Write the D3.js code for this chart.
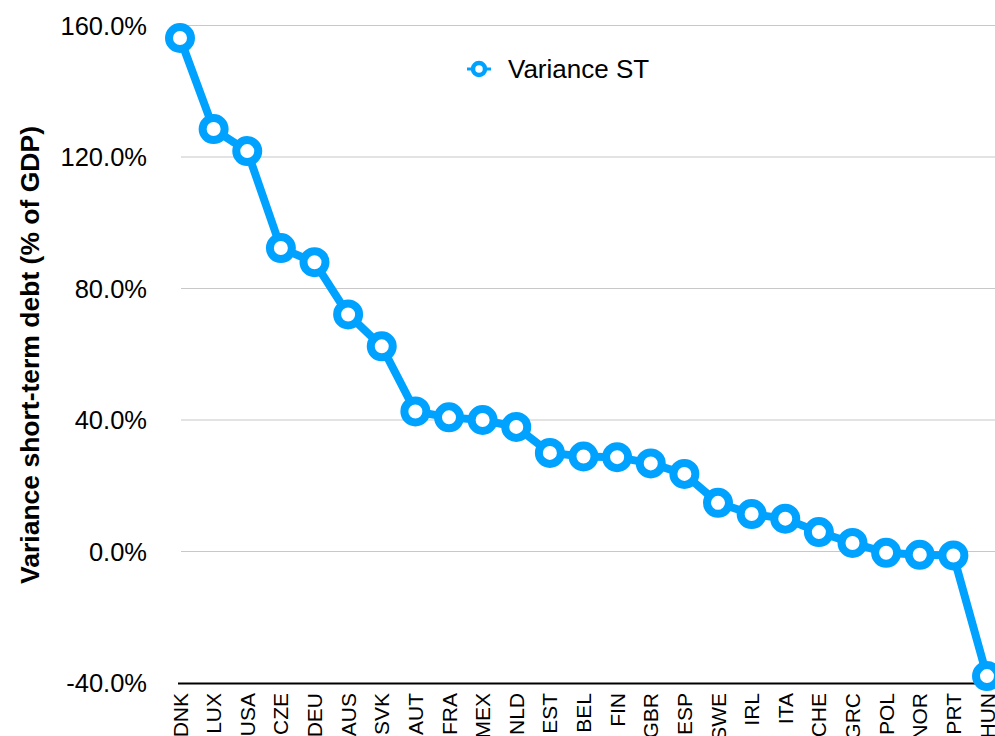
<!DOCTYPE html>
<html>
  <head>
    <meta charset="utf-8">
    <script src="https://d3js.org/d3.v7.min.js"></script>
    <style>
      body { margin: 0; background: white; }
      text { font-family: "Liberation Sans", Arial, sans-serif; fill: black; }
    </style>
  </head>
  <body>
    <svg id="main" width="995" height="736"></svg>
    <script>
      var countries = ['DNK','LUX','USA','CZE','DEU','AUS','SVK','AUT','FRA','MEX','NLD','EST','BEL',
                       'FIN','GBR','ESP','SWE','IRL','ITA','CHE','GRC','POL','NOR','PRT','HUN'];
      var variance = [156.2, 128.5, 121.8, 92.3, 88.0, 72.1, 62.4, 42.6, 40.8, 40.0, 37.9, 30.0, 28.9,
                      28.7, 26.8, 23.6, 14.8, 11.4, 10.0, 5.9, 2.6, -0.4, -1.0, -1.2, -37.9];
      var yTicks = [-40, 0, 40, 80, 120, 160];
      var seriesName = 'Variance ST';
      var BLUE = '#00a2ff';

      var svg = d3.select('#main');

      var x = d3.scalePoint().domain(countries).range([180, 987]);
      var y = d3.scaleLinear().domain([-40, 160]).range([683, 25.5]);

      // gridlines
      svg.append('g')
        .selectAll('line')
        .data(yTicks.filter(function(d){ return d > -40; }))
        .enter()
        .append('line')
        .attr('x1', 181).attr('x2', 995)
        .attr('y1', function(d){ return y(d); })
        .attr('y2', function(d){ return y(d); })
        .style('stroke', '#c8c8c8')
        .style('stroke-width', 1.2);

      // y labels
      svg.append('g')
        .selectAll('text')
        .data(yTicks)
        .enter()
        .append('text')
        .attr('x', 147)
        .attr('y', function(d){ return y(d); })
        .attr('dy', '0.36em')
        .attr('text-anchor', 'end')
        .style('font-size', '25.5px')
        .text(function(d){ return d3.format('.1f')(d).replace('\u2212', '-') + '%'; });

      // y title
      svg.append('text')
        .attr('transform', 'translate(39,355) rotate(-90)')
        .attr('text-anchor', 'middle')
        .style('font-size', '26.5px')
        .style('font-weight', 'bold')
        .text('Variance short-term debt (% of GDP)');

      // x axis line
      svg.append('line')
        .attr('x1', 178).attr('x2', 995)
        .attr('y1', y(-40) + 0.5).attr('y2', y(-40) + 0.5)
        .style('stroke', 'black')
        .style('stroke-width', 2);

      // x labels
      svg.append('g')
        .selectAll('text')
        .data(countries)
        .enter()
        .append('text')
        .attr('transform', function(d){ return 'translate(' + x(d) + ',693) rotate(-90)'; })
        .attr('dy', '0.36em')
        .attr('text-anchor', 'end')
        .style('font-size', '21px')
        .text(function(d){ return d; });

      // line
      var line = d3.line()
        .x(function(d, i){ return x(countries[i]); })
        .y(function(d){ return y(d); });

      svg.append('path')
        .datum(variance)
        .attr('d', line)
        .style('fill', 'none')
        .style('stroke', BLUE)
        .style('stroke-width', 8)
        .style('stroke-linejoin', 'round');

      svg.append('g')
        .selectAll('circle')
        .data(variance)
        .enter()
        .append('circle')
        .attr('cx', function(d, i){ return x(countries[i]); })
        .attr('cy', function(d){ return y(d); })
        .attr('r', 11)
        .style('fill', 'white')
        .style('stroke', BLUE)
        .style('stroke-width', 8);

      // legend
      var legend = svg.append('g').attr('transform', 'translate(479,69)');
      legend.append('line')
        .attr('x1', -12).attr('x2', 12)
        .style('stroke', BLUE)
        .style('stroke-width', 3);
      legend.append('circle')
        .attr('r', 6)
        .style('fill', 'white')
        .style('stroke', BLUE)
        .style('stroke-width', 4.5);
      legend.append('text')
        .attr('x', 29)
        .attr('dy', '0.36em')
        .style('font-size', '26px')
        .text(seriesName);
    </script>
  </body>
</html>
